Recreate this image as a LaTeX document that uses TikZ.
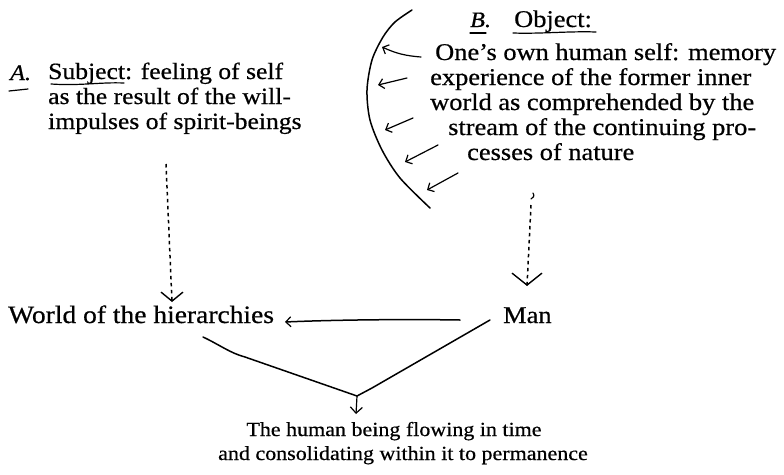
\documentclass[tikz,border=0pt]{standalone}
\usepackage{fontspec}
\setmainfont{Liberation Serif}[FakeStretch=1.1,FakeBold=0.6]
\usetikzlibrary{arrows.meta}
\begin{document}
\begin{tikzpicture}[x=1pt,y=-1pt,
  txt/.style={anchor=base west, inner sep=0pt, font=\fontsize{24}{25}\selectfont},
  small/.style={anchor=base, inner sep=0pt, font=\fontsize{20}{23}\selectfont},
  hand/.style={anchor=base west, inner sep=0pt, font=\fontsize{22}{24}\selectfont\itshape},
  pen/.style={line width=1.5pt, line cap=round, line join=round},
  thinpen/.style={line width=1.2pt, line cap=round, line join=round},
  dots/.style={line width=1.5pt, dash pattern=on 3.5pt off 3.5pt},
  smallbarb/.style={-{Straight Barb[length=5pt,width=10pt,line width=1.2pt]}},
  bigbarb/.style={-{Straight Barb[length=12pt,width=30pt,line width=1.4pt]}},
  midbarb/.style={-{Straight Barb[length=9pt,width=22pt,line width=1.4pt]}}
]
\useasboundingbox (0,0) rectangle (784,474);

% A block
\node[hand] (aL) at (10,80) {A.};
\node[txt,font=\fontsize{23.3}{25}\selectfont] (a1) at (48,79) {Subject: feeling of self};
\node[txt,font=\fontsize{23.3}{25}\selectfont] (a2) at (48,104) {as the result of the will-};
\node[txt,font=\fontsize{23.3}{25}\selectfont] (a3) at (48,129) {impulses of spirit-beings};
\draw[thinpen] (9,91) -- (28,89);
\draw[thinpen] (51,84) .. controls (80,86) and (100,82) .. (124,83);

% B block
\node[hand] (bL) at (470,27) {B.};
\node[txt] (obj) at (514,27) {Object:};
\node[txt] (b1) at (435,60) {One’s own human self: memory};
\node[txt] (b2) at (430,85) {experience of the former inner};
\node[txt] (b3) at (430,110) {world as comprehended by the};
\node[txt] (b4) at (448,135) {stream of the continuing pro-};
\node[txt] (b5) at (467,160) {cesses of nature};
\draw[thinpen] (470,33) -- (486,33);
\draw[thinpen] (513,33) .. controls (540,34) and (570,31) .. (596,32);

% arc
\draw[pen] plot[smooth] coordinates {(412,10) (395,22) (383,37) (372,60) (367,90) (370,120) (382,150) (400,178) (430,208)};
\coordinate (r1) at (421,57); \coordinate (c1) at (382,47);
\coordinate (r2) at (407,78); \coordinate (c2) at (378,85);
\coordinate (r3) at (413,118); \coordinate (c3) at (385,130);
\coordinate (r4) at (438,145); \coordinate (c4) at (405,162);
\coordinate (r5) at (458,173); \coordinate (c5) at (427,190);
\draw[thinpen,smallbarb] (r1) to[bend left=10] (c1);
\draw[thinpen,smallbarb] (r2) -- (c2);
\draw[thinpen,smallbarb] (r3) -- (c3);
\draw[thinpen,smallbarb] (r4) -- (c4);
\draw[thinpen,smallbarb] (r5) -- (c5);

% lower nodes
\node[txt,font=\fontsize{25}{25}\selectfont] (world) at (8,323) {World of the hierarchies};
\node[txt] (man) at (503,323) {Man};
\node[small] (h1) at (394,436) {The human being flowing in time};
\node[small] (h2) at (403,460) {and consolidating within it to permanence};

% dashed arrows
\coordinate (dA) at (166,164);
\coordinate (tA) at (172,302);
\draw[dots] (dA) -- (tA);
\draw[pen,midbarb] ([yshift=2pt]tA) -- (tA);
\coordinate (dB) at (531,205);
\coordinate (tB) at (527,286);
\draw[thinpen] (533,193) .. controls (535,196) and (533,198) .. (531,199);
\draw[dots] (dB) -- (tB);
\draw[pen,bigbarb] ([yshift=2pt]tB) -- (tB);

% Man -> World
\draw[pen,smallbarb] (460,320) .. controls (400,319) and (330,320) .. (285,322);

% join
\coordinate (j) at (357,396);
\draw[pen] (203,337) .. controls (220,345) and (230,353) .. (245,357) -- (j);
\draw[pen] (490,320) -- (372,388) -- (j);
\draw[thinpen,-{Straight Barb[length=6pt,width=12pt,line width=1.2pt]}] (j) -- (356,414);
\end{tikzpicture}
\end{document}
